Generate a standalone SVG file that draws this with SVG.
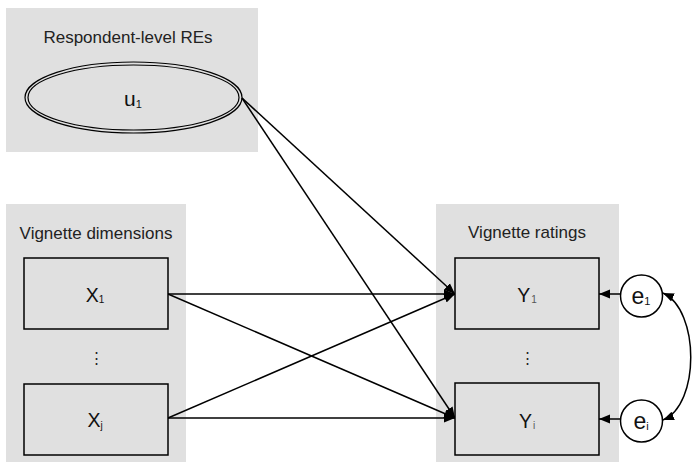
<svg xmlns="http://www.w3.org/2000/svg" width="695" height="473" viewBox="0 0 695 473">
<style>
.grp{fill:#e0e0e0;stroke:none}
.box{fill:#e0e0e0;stroke:#000;stroke-width:1.5}
.lbl{font-family:"Liberation Sans",Arial,sans-serif;font-size:17px;fill:#222;text-anchor:middle}
.nt{font-family:"Liberation Sans",Arial,sans-serif;font-size:19.5px;fill:#111;text-anchor:middle}
.sub{font-size:10px}
.edge{fill:none;stroke:#000;stroke-width:1.5}
</style>
<defs>
<marker id="ah" viewBox="0 0 10 10" refX="10" refY="5" markerWidth="11" markerHeight="11" markerUnits="userSpaceOnUse" orient="auto">
<path d="M0,1 L10,5 L0,9 z" fill="#000"/>
</marker>
<marker id="ahs" viewBox="0 0 10 10" refX="0" refY="5" markerWidth="11" markerHeight="11" markerUnits="userSpaceOnUse" orient="auto">
<path d="M10,1 L0,5 L10,9 z" fill="#000"/>
</marker>
</defs>
<rect width="695" height="473" fill="#fff"/>
<g id="group-re">
<rect class="grp" x="6" y="8" width="252" height="144"/>
<text class="lbl" x="128" y="43">Respondent-level REs</text>
</g>
<g id="group-dims">
<rect class="grp" x="6" y="204" width="180" height="258"/>
<text class="lbl" x="96" y="239">Vignette dimensions</text>
<text class="lbl" x="96" y="363" style="font-size:15px">⋮</text>
</g>
<g id="group-ratings">
<rect class="grp" x="436" y="204" width="183" height="258"/>
<text class="lbl" x="527" y="238">Vignette ratings</text>
<text class="lbl" x="527" y="363" style="font-size:15px">⋮</text>
</g>
<g id="connectors">
<line class="edge" x1="168" y1="294" x2="455" y2="294" marker-end="url(#ah)"/>
<line class="edge" x1="168" y1="294" x2="455" y2="418" marker-end="url(#ah)"/>
<line class="edge" x1="168" y1="418" x2="455" y2="294" marker-end="url(#ah)"/>
<line class="edge" x1="168" y1="418" x2="455" y2="418" marker-end="url(#ah)"/>
<line class="edge" x1="242" y1="98" x2="455" y2="294" marker-end="url(#ah)"/>
<line class="edge" x1="242" y1="98" x2="455" y2="418" marker-end="url(#ah)"/>
<line class="edge" x1="620" y1="294" x2="599" y2="294" marker-end="url(#ah)"/>
<line class="edge" x1="620" y1="419" x2="599" y2="419" marker-end="url(#ah)"/>
<path class="edge" d="M663,293 C700,310 700,405 663,420" marker-start="url(#ahs)" marker-end="url(#ah)"/>
</g>
<g id="node-u1">
<ellipse cx="133.5" cy="97.5" rx="108.5" ry="35.5" fill="none" stroke="#000" stroke-width="1.2"/>
<ellipse cx="133.5" cy="97.5" rx="105.5" ry="32.5" fill="none" stroke="#000" stroke-width="1.2"/>
<text class="nt" x="133" y="106" style="font-size:21px">u<tspan class="sub" style="font-size:11px" dy="2">1</tspan></text>
</g>
<g id="node-x1">
<rect class="box" x="24" y="258" width="144" height="71"/>
<text class="nt" x="95" y="302">X<tspan class="sub" dy="1">1</tspan></text>
</g>
<g id="node-xj">
<rect class="box" x="24" y="384" width="144" height="71"/>
<text class="nt" x="95" y="427">X<tspan class="sub" dy="2">j</tspan></text>
</g>
<g id="node-y1">
<rect class="box" x="455" y="258" width="144" height="71"/>
<text class="nt" x="527" y="302">Y<tspan class="sub" dx="1" dy="1" fill="#555">1</tspan></text>
</g>
<g id="node-yi">
<rect class="box" x="455" y="383" width="144" height="72"/>
<text class="nt" x="527" y="428">Y<tspan class="sub" dx="1" dy="1" fill="#555">i</tspan></text>
</g>
<g id="node-e1">
<circle cx="641.5" cy="296" r="21" fill="#fff" stroke="#000" stroke-width="1.5"/>
<text class="nt" x="641" y="304" style="font-size:23px">e<tspan class="sub" style="font-size:11px" dy="1">1</tspan></text>
</g>
<g id="node-ei">
<circle cx="641.5" cy="421" r="21" fill="#fff" stroke="#000" stroke-width="1.5"/>
<text class="nt" x="641" y="429" style="font-size:23px">e<tspan class="sub" style="font-size:11px" dy="1">i</tspan></text>
</g>
</svg>
